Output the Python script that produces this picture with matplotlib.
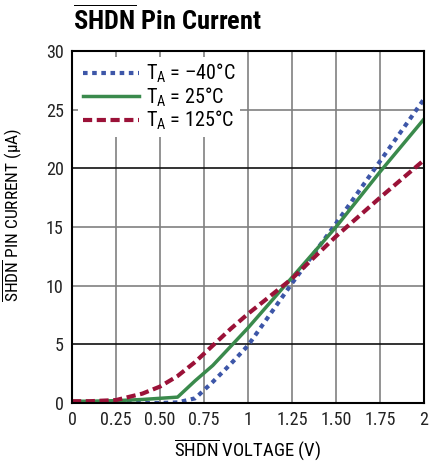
import matplotlib
matplotlib.use("Agg")
import matplotlib.pyplot as plt
from matplotlib import font_manager

# volts
volts = [0, 0.1, 0.25, 0.4, 0.5, 0.6, 0.7, 0.8, 0.9, 1.0, 1.25, 1.5, 1.75, 2.0]
# pin current (uA)
i_m40 = [0, 0, 0, 0, 0, 0.05, 0.4, 1.8, 3.3, 4.9, 10.2, 15.3, 20.6, 25.9]
i_25 = [0.15, 0.15, 0.2, 0.3, 0.4, 0.5, 1.9, 3.2, 4.8, 6.4, 10.7, 15.0, 19.7, 24.2]
i_125 = [0.15, 0.15, 0.25, 0.8, 1.4, 2.3, 3.5, 4.9, 6.3, 7.6, 10.6, 14.2, 17.5, 20.7]

labels = [r'$\mathrm{T_A}$ = –40°C', r'$\mathrm{T_A}$ = 25°C', r'$\mathrm{T_A}$ = 125°C']
xticks = [0, 0.25, 0.5, 0.75, 1, 1.25, 1.5, 1.75, 2]
xticklabels = ['0', '0.25', '0.50', '0.75', '1', '1.25', '1.50', '1.75', '2']
yticks = [0, 5, 10, 15, 20, 25, 30]

names = {f.name for f in font_manager.fontManager.ttflist}
fam = 'DejaVu Sans'
for cand in ['Roboto Condensed', 'Liberation Sans Narrow', 'Open Sans Condensed',
             'Noto Sans Condensed', 'Roboto', 'Liberation Sans']:
    if cand in names:
        fam = cand
        break
plt.rcParams['font.family'] = [fam, 'DejaVu Sans']
plt.rcParams['mathtext.fontset'] = 'custom'
plt.rcParams['mathtext.rm'] = fam
plt.rcParams['mathtext.bf'] = fam + ':bold'

fig = plt.figure(figsize=(4.3, 4.63), dpi=100)
ax = fig.add_axes([72/430, 60/463, 352/430, 352/463])

ax.plot(volts, i_m40, color='#3d56a8', lw=3, linestyle=(0, (1.1, 1.1)), label=labels[0])
ax.plot(volts, i_25, color='#3a8a4c', lw=2.5, label=labels[1])
ax.plot(volts, i_125, color='#9b1238', lw=3, linestyle=(0, (2.2, 1.1)), label=labels[2])

ax.set_xlim(0, 2)
ax.set_ylim(0, 30)
ax.set_xticks(xticks)
ax.set_xticklabels(xticklabels)
ax.set_yticks(yticks)
ax.tick_params(length=0, labelsize=13, pad=6, colors='#222222')

for x in xticks[1:-1]:
    ax.axvline(x, color='#808080', lw=1.2, zorder=0)
for y in yticks[1:-1]:
    c = '#111111' if y in (5, 20) else '#808080'
    ax.axhline(y, color=c, lw=1.2, zorder=0)
for s in ax.spines.values():
    s.set_linewidth(1.5)

leg = ax.legend(loc='upper left', fontsize=14.5, frameon=True, fancybox=False,
                borderaxespad=0.3, handlelength=2.8, handletextpad=0.3,
                labelspacing=0.0, borderpad=0.25)
leg.get_frame().set_facecolor('white')
leg.get_frame().set_edgecolor('none')
leg.get_frame().set_alpha(1)

ax.set_xlabel(r'$\overline{\mathrm{SHDN}}$ VOLTAGE (V)', fontsize=13.5, labelpad=6)
fig.text(12/430, 1 - 215/463, r'$\overline{\mathrm{SHDN}}$ PIN CURRENT (µA)', fontsize=12.5,
         rotation=90, ha='center', va='center')
fig.text(73/430, 1 - 20/463, r'$\overline{\mathbf{SHDN}}$ Pin Current', fontsize=19,
         fontweight='bold', ha='left', va='center')

fig.savefig('out.png', dpi=100)
